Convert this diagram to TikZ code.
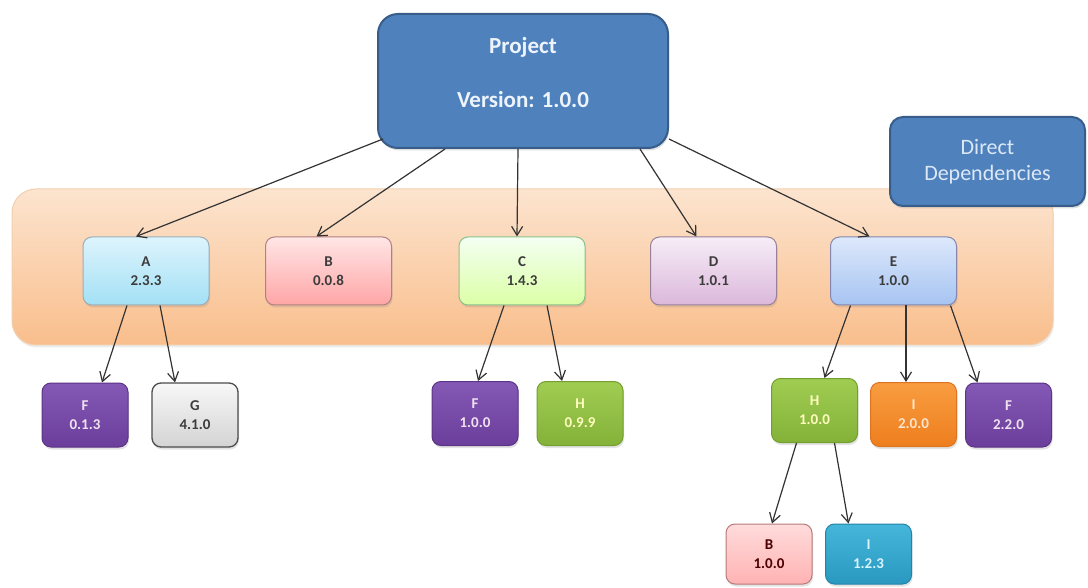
\documentclass[tikz,border=0pt]{standalone}
\usepackage{fontspec}
\setmainfont{Carlito}
\usetikzlibrary{arrows.meta,shadows}
\definecolor{pblue}{HTML}{4F81BD}
\definecolor{pblueb}{HTML}{385D8A}
\definecolor{ptext}{HTML}{EEF4FB}
\definecolor{ddtext}{HTML}{DCE8F6}
\definecolor{bandtop}{HTML}{FCE4CF}
\definecolor{bandbot}{HTML}{F9BE8C}
\definecolor{bandbd}{HTML}{F2CFAE}
\definecolor{dtext}{HTML}{3C3C3C}
\definecolor{arrowc}{HTML}{333333}
\definecolor{etop}{HTML}{DDE8FB}
\definecolor{ebot}{HTML}{A6C4F2}
\definecolor{atop}{HTML}{DDF4FC}
\definecolor{abot}{HTML}{A3E0F5}
\begin{document}
\begin{tikzpicture}[x=1pt,y=-1pt,
  box/.style={draw, rounded corners=9pt, line width=1pt, align=center,
    font=\bfseries\fontsize{15}{19}\selectfont, inner sep=0pt,
    drop shadow={opacity=0.22, shadow xshift=1pt, shadow yshift=-2.5pt}},
  upper/.style={box, minimum width=126pt, minimum height=68pt, text=dtext},
  lower/.style={box, minimum width=86pt, minimum height=64pt},
  bigblue/.style={draw=pblueb, fill=pblue, line width=2pt, text=ptext,
    drop shadow={opacity=0.25, shadow xshift=1pt, shadow yshift=-2.5pt}},
  arr/.style={-{Straight Barb[length=9pt,width=11pt]}, draw=arrowc, line width=1.2pt}]
\fill[white] (0,0) rectangle (1088,588);
\useasboundingbox (0,0) rectangle (1088,588);

% band
\node[draw=bandbd, line width=1pt, rounded corners=24pt, top color=bandtop, bottom color=bandbot,
  minimum width=1041pt, minimum height=156pt, inner sep=0pt,
  drop shadow={opacity=0.15, shadow xshift=1pt, shadow yshift=-2.5pt}] (band) at (532.5,267) {};

% project
\node[bigblue, rounded corners=20pt, minimum width=290pt, minimum height=134pt, inner sep=0pt,
  label={[align=center, text=ptext, font=\bfseries\fontsize{23}{27}\selectfont, yshift=8pt]center:{Project\\[27pt]Version: 1.0.0}}]
  (P) at (523,81) {};

% direct deps
\node[bigblue, rounded corners=13pt, minimum width=195pt, minimum height=89pt, inner sep=0pt,
  align=center, font=\fontsize{22}{26}\selectfont, text=ddtext]
  (DD) at (987.5,161.5) {Direct\\Dependencies};

% direct dependency boxes
\node[upper, draw=cyan!20!gray!80, top color=atop, bottom color=abot] (A) at (146,271) {A\\2.3.3};
\node[upper, draw=red!25!gray!80, top color=red!10!white, bottom color=red!35!white] (B) at (328.5,271) {B\\0.0.8};
\node[upper, draw=green!30!gray!70, top color=yellow!10!green!5!white, bottom color=yellow!60!green!35!white] (C) at (522,271) {C\\1.4.3};
\node[upper, draw=violet!25!gray!80, top color=violet!7!white, bottom color=violet!28!white] (D) at (713.5,271) {D\\1.0.1};
\node[upper, draw=blue!20!gray!80, top color=etop, bottom color=ebot] (E) at (893.5,271) {E\\1.0.0};

% transitive dependency boxes
\definecolor{purt}{HTML}{8459B5}\definecolor{purb}{HTML}{6A3E9A}\definecolor{purd}{HTML}{5B3485}
\definecolor{grnt}{HTML}{A0CC52}\definecolor{grnb}{HTML}{84B238}\definecolor{grnd}{HTML}{739E30}
\definecolor{orgt}{HTML}{F89D40}\definecolor{orgb}{HTML}{EE7E1E}\definecolor{orgd}{HTML}{DD7422}
\definecolor{tealt}{HTML}{45B7DA}\definecolor{tealb}{HTML}{2A98C0}\definecolor{teald}{HTML}{2384A8}

\node[lower, draw=purd, top color=purt, bottom color=purb, text=violet!12!white] (F1) at (85,415) {F\\0.1.3};
\node[lower, draw=black!70, line width=1.3pt, top color=black!3, bottom color=black!17, text=dtext] (G) at (195,415) {G\\4.1.0};
\node[lower, draw=purd, top color=purt, bottom color=purb, text=violet!12!white] (F2) at (475,413.5) {F\\1.0.0};
\node[lower, draw=grnd, top color=grnt, bottom color=grnb, text=yellow!25!white] (H1) at (580,413.5) {H\\0.9.9};
\node[lower, draw=grnd, top color=grnt, bottom color=grnb, text=yellow!25!white] (H2) at (814.5,410.5) {H\\1.0.0};
\node[lower, draw=orgd, top color=orgt, bottom color=orgb, text=orange!20!white] (I1) at (913.5,414.5) {I\\2.0.0};
\node[lower, draw=purd, top color=purt, bottom color=purb, text=violet!12!white] (F3) at (1008.5,415) {F\\2.2.0};
\node[lower, minimum height=60pt, draw=red!30!gray!80, top color=red!14!white, bottom color=red!30!white, text=red!30!black] (B2) at (769,554) {B\\1.0.0};
\node[lower, minimum height=60pt, draw=teald, top color=tealt, bottom color=tealb, text=cyan!15!white] (I2) at (868.5,554) {I\\1.2.3};

% connectors from project
\draw[arr] ([xshift=6pt,yshift=10pt]P.south west) -- ([xshift=-10pt]A.north);
\draw[arr] ([xshift=-78pt]P.south) -- ([xshift=-12pt]B.north);
\draw[arr] ([xshift=-5pt]P.south) -- ([xshift=-5pt]C.north);
\draw[arr] ([xshift=117pt]P.south) -- ([xshift=-17pt]D.north);
\draw[arr] ([yshift=10pt]P.south east) -- ([xshift=-24pt]E.north);

% lower connectors
\draw[arr] ([xshift=-19pt]A.south) -- ([xshift=17pt]F1.north);
\draw[arr] ([xshift=14pt]A.south) -- ([xshift=-20pt]G.north);
\draw[arr] ([xshift=-18pt]C.south) -- ([xshift=3pt]F2.north);
\draw[arr] ([xshift=25pt]C.south) -- ([xshift=-18pt]H1.north);
\draw[arr] ([xshift=-43pt]E.south) -- ([xshift=10pt]H2.north);
\draw[arr] ([xshift=12.5pt]E.south) -- ([xshift=-7.5pt]I1.north);
\draw[arr] ([xshift=57pt]E.south) -- ([xshift=-31pt]F3.north);
\draw[arr] ([xshift=-18pt]H2.south) -- ([xshift=3pt]B2.north);
\draw[arr] ([xshift=20pt]H2.south) -- ([xshift=-20pt]I2.north);
\end{tikzpicture}
\end{document}
